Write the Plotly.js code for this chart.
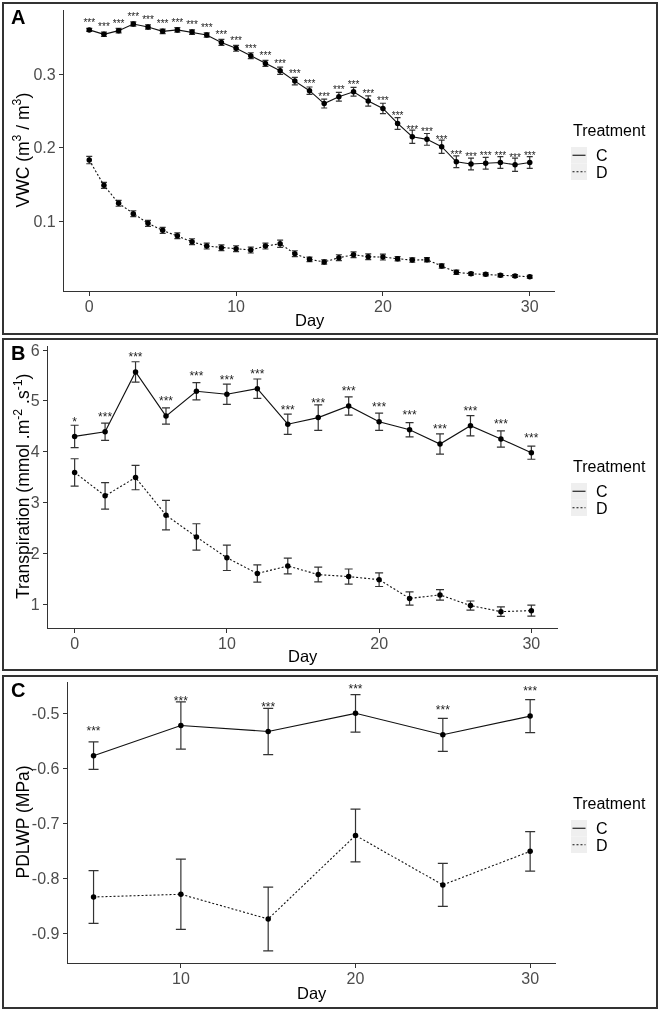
<!DOCTYPE html>
<html>
<head>
<meta charset="utf-8">
<script src="https://cdn.plot.ly/plotly-3.0.1.min.js"></script>
<style>
  html, body { margin: 0; padding: 0; background: #ffffff; }
  #chart { width: 661px; height: 1012px; will-change: transform; -webkit-font-smoothing: antialiased; }
</style>
</head>
<body>
<div id="chart"></div>
<script>
// ---- Panel A: volumetric soil water content, daily ----
const vwcDays = [0,1,2,3,4,5,6,7,8,9,10,11,12,13,14,15,16,17,18,19,20,21,22,23,24,25,26,27,28,29,30];
const vwcC    = [0.360,0.354,0.359,0.368,0.364,0.358,0.360,0.357,0.353,0.343,0.335,0.325,0.3145,0.3045,0.2905,0.2775,0.260,0.2693,0.276,0.2634,0.2534,0.233,0.215,0.2114,0.2015,0.181,0.178,0.179,0.180,0.177,0.180];
const vwcCse  = [0.002,0.003,0.003,0.003,0.003,0.003,0.003,0.003,0.003,0.004,0.004,0.004,0.004,0.005,0.005,0.005,0.006,0.006,0.006,0.007,0.007,0.008,0.009,0.008,0.009,0.008,0.008,0.008,0.008,0.009,0.008];
const vwcD    = [0.1833,0.149,0.1246,0.1105,0.0974,0.0879,0.0806,0.0725,0.0666,0.0643,0.063,0.0612,0.0666,0.0697,0.0562,0.0486,0.045,0.0508,0.0548,0.0521,0.0517,0.0494,0.0476,0.048,0.0395,0.031,0.029,0.0282,0.0269,0.026,0.025];
const vwcDse  = [0.005,0.004,0.004,0.004,0.004,0.004,0.004,0.004,0.004,0.004,0.004,0.004,0.004,0.005,0.004,0.003,0.003,0.004,0.004,0.004,0.004,0.003,0.003,0.003,0.003,0.003,0.002,0.002,0.002,0.002,0.002];
const vwcSig  = ["***","***","***","***","***","***","***","***","***","***","***","***","***","***","***","***","***","***","***","***","***","***","***","***","***","***","***","***","***","***","***"];
const vwcTickVals = [0.1, 0.2, 0.3];
const vwcTickText = ["0.1", "0.2", "0.3"];

// ---- Panel B: transpiration, every second day ----
const trDays = [0,2,4,6,8,10,12,14,16,18,20,22,24,26,28,30];
const trC    = [4.30,4.39,5.57,4.70,5.19,5.13,5.24,4.54,4.67,4.90,4.59,4.43,4.15,4.51,4.25,3.98];
const trCse  = [0.22,0.17,0.20,0.16,0.17,0.20,0.19,0.20,0.25,0.18,0.17,0.14,0.20,0.20,0.16,0.13];
const trD    = [3.59,3.13,3.49,2.75,2.32,1.91,1.60,1.75,1.58,1.54,1.48,1.11,1.18,0.97,0.85,0.87];
const trDse  = [0.27,0.26,0.24,0.29,0.26,0.25,0.17,0.155,0.145,0.15,0.135,0.13,0.105,0.09,0.095,0.11];
const trSig  = ["*","***","***","***","***","***","***","***","***","***","***","***","***","***","***","***"];
const trTickVals = [1, 2, 3, 4, 5, 6];
const trTickText = ["1", "2", "3", "4", "5", "6"];

// ---- Panel C: pre-dawn leaf water potential ----
const pdDays = [5,10,15,20,25,30];
const pdC    = [-0.577,-0.522,-0.533,-0.500,-0.539,-0.505];
const pdCse  = [0.025,0.043,0.042,0.034,0.030,0.030];
const pdD    = [-0.834,-0.829,-0.874,-0.722,-0.812,-0.751];
const pdDse  = [0.048,0.064,0.058,0.048,0.039,0.036];
const pdSig  = ["***","***","***","***","***","***"];
const pdTickVals = [-0.9, -0.8, -0.7, -0.6, -0.5];
const pdTickText = ["-0.9", "-0.8", "-0.7", "-0.6", "-0.5"];

const dayTickVals = [0, 10, 20, 30];
const dayTickText = ["0", "10", "20", "30"];
const treatments = ["C", "D"];

// ---- page geometry (pixels) ----
const W = 661, H = 1012;
const px = v => v / W;          // horizontal pixel -> paper
const py = v => 1 - v / H;      // vertical pixel -> paper
const FONT = "Liberation Sans, Arial, Helvetica, sans-serif";

const panels = [
  { box: [3, 3, 657, 334],   xDom: [64, 555],   yDom: [10, 291],  xr: [-1.72, 31.72], yr: [0.0056, 0.387], letter: "A" },
  { box: [3, 339, 657, 670], xDom: [48, 558],   yDom: [346, 628], xr: [-1.75, 31.75], yr: [0.528, 6.08],  letter: "B" },
  { box: [3, 676, 657, 1008], xDom: [67.7, 556], yDom: [682, 963], xr: [3.52, 31.48],  yr: [-0.954, -0.443], letter: "C" }
];

function series(x, y, se, xa, ya, dash, capw) {
  return {
    type: "scatter", mode: "lines+markers", x: x, y: y,
    xaxis: xa, yaxis: ya,
    line: { color: "#111111", width: 1.1, dash: dash },
    marker: { color: "#000000", size: 5.5 },
    error_y: { type: "data", array: se, visible: true, color: "#333333", thickness: 1.2, width: capw },
    hoverinfo: "x+y"
  };
}

function stars(x, y, offset, labels, xa, ya, size) {
  return {
    type: "scatter", mode: "text", x: x, y: y.map(v => v + offset),
    text: labels, textposition: "middle center",
    textfont: { family: FONT, size: size, color: "#222222" },
    xaxis: xa, yaxis: ya, hoverinfo: "skip"
  };
}

const traces = [
  series(vwcDays, vwcD, vwcDse, "x", "y", "2px,2px", 3),
  series(vwcDays, vwcC, vwcCse, "x", "y", "solid", 3),
  stars(vwcDays, vwcC, 0.0088, vwcSig, "x", "y", 10),

  series(trDays, trD, trDse, "x2", "y2", "2px,2px", 4),
  series(trDays, trC, trCse, "x2", "y2", "solid", 4),
  stars(trDays, trC, 0.27, trSig, "x2", "y2", 12),

  series(pdDays, pdD, pdDse, "x3", "y3", "2px,2px", 5),
  series(pdDays, pdC, pdCse, "x3", "y3", "solid", 5),
  stars(pdDays, pdC, 0.043, pdSig, "x3", "y3", 12)
];

function axisBase() {
  return {
    showline: true, linecolor: "#333333", linewidth: 1.1,
    ticks: "outside", ticklen: 4, tickwidth: 1, tickcolor: "#333333",
    showgrid: false, zeroline: false, fixedrange: true,
    tickfont: { family: FONT, size: 16, color: "#4d4d4d" }
  };
}

const layout = {
  width: W, height: H,
  margin: { l: 0, r: 0, t: 0, b: 0 },
  paper_bgcolor: "#ffffff", plot_bgcolor: "#ffffff",
  showlegend: false,
  font: { family: FONT, color: "#000000" },
  shapes: [], annotations: []
};

const yTitles = [
  "VWC (m<sup>3</sup> / m<sup>3</sup>)",
  "Transpiration (mmol .m<sup>-2</sup> .s<sup>-1</sup>)",
  "PDLWP (MPa)"
];
const yTicks = [[vwcTickVals, vwcTickText], [trTickVals, trTickText], [pdTickVals, pdTickText]];

panels.forEach((p, i) => {
  const sfx = i === 0 ? "" : String(i + 1);
  const xa = Object.assign(axisBase(), {
    domain: [px(p.xDom[0]), px(p.xDom[1])], range: p.xr,
    anchor: "y" + sfx, tickvals: dayTickVals, ticktext: dayTickText,
    ticklabelstandoff: -3
  });
  const ya = Object.assign(axisBase(), {
    domain: [py(p.yDom[1]), py(p.yDom[0])], range: p.yr,
    anchor: "x" + sfx, tickvals: yTicks[i][0], ticktext: yTicks[i][1]
  });
  layout["xaxis" + sfx] = xa;
  layout["yaxis" + sfx] = ya;

  const off = p.box[1] - 3;   // vertical offset of this panel from the first

  // panel frame
  layout.shapes.push({
    type: "rect", xref: "paper", yref: "paper", layer: "above",
    x0: px(p.box[0]), x1: px(p.box[2]), y0: py(p.box[1]), y1: py(p.box[3]),
    line: { color: "#333333", width: 2 }, fillcolor: "rgba(0,0,0,0)"
  });

  // panel letter
  layout.annotations.push({
    xref: "paper", yref: "paper", x: px(17.5), y: py(17 + off),
    text: "<b>" + p.letter + "</b>", showarrow: false,
    xanchor: "center", yanchor: "middle",
    font: { family: FONT, size: 20, color: "#000000" }
  });

  // axis titles
  layout.annotations.push({
    xref: "paper", yref: "paper", x: px(22), y: py((p.yDom[0] + p.yDom[1]) / 2),
    text: yTitles[i], textangle: -90, showarrow: false,
    xanchor: "center", yanchor: "middle",
    font: { family: FONT, size: 17.5, color: "#000000" }
  });
  layout.annotations.push({
    xref: "paper", yref: "paper", x: px((p.xDom[0] + p.xDom[1]) / 2), y: py(320 + off),
    text: "Day", showarrow: false, xanchor: "center", yanchor: "middle",
    font: { family: FONT, size: 16.5, color: "#000000" }
  });

  // legend: title, grey key boxes, line samples, labels
  layout.annotations.push({
    xref: "paper", yref: "paper", x: px(571), y: py(130 + off),
    text: "Treatment", showarrow: false, xanchor: "left", yanchor: "middle",
    font: { family: FONT, size: 16, color: "#000000" }
  });
  treatments.forEach((t, k) => {
    const top = 147 + off + k * 16.5;
    layout.shapes.push({
      type: "rect", xref: "paper", yref: "paper", layer: "below",
      x0: px(571), x1: px(587), y0: py(top), y1: py(top + 16.5),
      line: { width: 0 }, fillcolor: "#efefef"
    });
    layout.shapes.push({
      type: "line", xref: "paper", yref: "paper",
      x0: px(572.5), x1: px(585.5), y0: py(top + 8.25), y1: py(top + 8.25),
      line: { color: "#111111", width: 1.1, dash: k === 0 ? "solid" : "2px,2px" }
    });
    layout.annotations.push({
      xref: "paper", yref: "paper", x: px(594), y: py(top + 8.5),
      text: t, showarrow: false, xanchor: "left", yanchor: "middle",
      font: { family: FONT, size: 16, color: "#000000" }
    });
  });
});

Plotly.newPlot("chart", traces, layout, { displayModeBar: false, staticPlot: true });
</script>
</body>
</html>
